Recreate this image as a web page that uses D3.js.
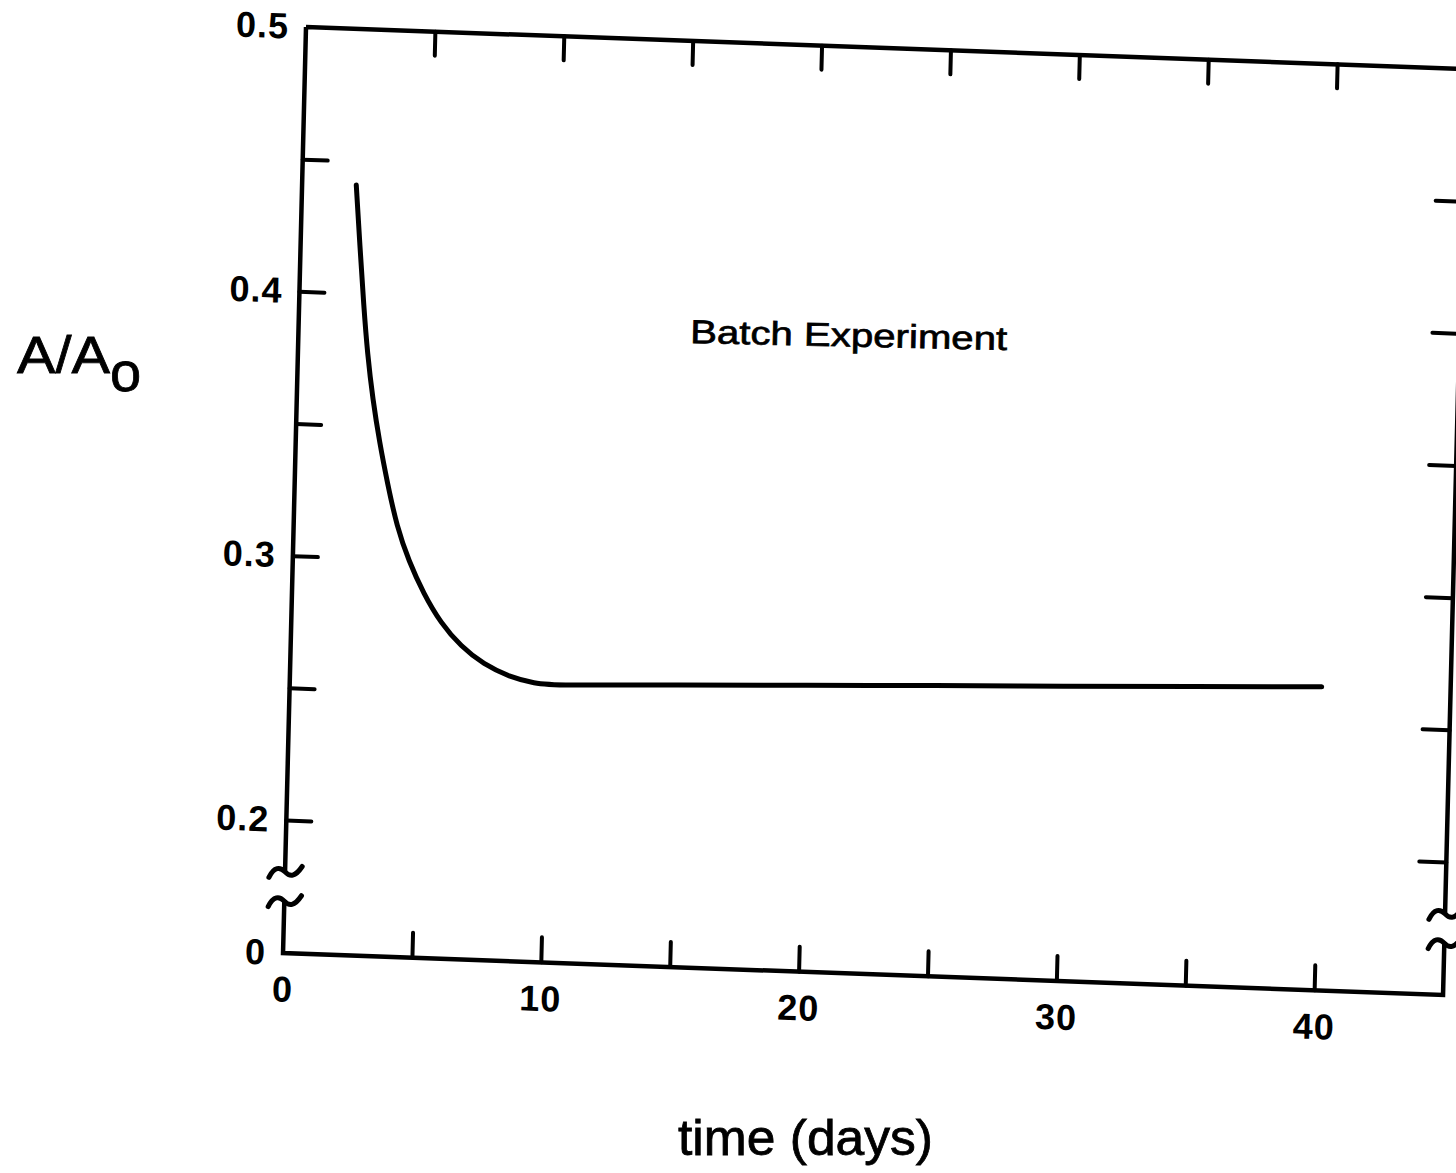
<!DOCTYPE html>
<html><head><meta charset="utf-8">
<script src="https://cdn.jsdelivr.net/npm/d3@7"></script>
<style>html,body{margin:0;padding:0;background:#fff;} svg{display:block;}</style>
</head><body>
<svg id="c" width="1456" height="1173"></svg>
<script>
// ---- data ----
const days  = [2.1, 2.3, 2.5, 2.7, 2.95, 3.25, 3.6, 4.0, 4.5, 5.1, 5.8, 6.6, 7.5, 8.5, 9.5, 10.3, 15, 20, 25, 30, 35, 40];
const ratio = [0.441, 0.418, 0.396, 0.377, 0.360, 0.344, 0.3285, 0.3125, 0.2995, 0.2875, 0.2765, 0.268, 0.2615, 0.2572, 0.2550, 0.2545, 0.2565, 0.258, 0.2597, 0.2612, 0.2628, 0.2645];
const xTickValues  = [5, 10, 15, 20, 25, 30, 35, 40];
const xLabelValues = [0, 10, 20, 30, 40];
const yTickValues  = [0.2, 0.25, 0.3, 0.35, 0.4, 0.45];
const yLabelValues = [0, 0.2, 0.3, 0.4, 0.5];
const xDomain = [0, 45];
const yDomain = [0, 0.2, 0.5];   // broken axis: 0 ... (break) ... 0.2 – 0.5
const annotation = "Batch Experiment";
const xTitle = "time (days)";
const yTitleMain = "A/A", yTitleSub = "o";

// ---- layout ----
const W = 1160, H = 926, y02 = 793;
const svg = d3.select("#c");
const ink = "#000";
const g = svg.append("g").attr("transform", "matrix(1,0.0362,-0.0248,1,306,27)");

const x = d3.scaleLinear().domain(xDomain).range([0, W]);
const y = d3.scaleLinear().domain(yDomain).range([H, y02, 0]);

const numFont = "'Liberation Sans', Arial, Helvetica, sans-serif";

function styleAxis(sel, sw) {
  sel.select(".domain").remove();
  sel.selectAll(".tick line").attr("stroke", ink).attr("stroke-width", sw).attr("stroke-linecap", "round");
  sel.selectAll("text").attr("fill", ink).attr("font-family", numFont).attr("font-weight", "bold")
     .attr("font-size", 36).attr("letter-spacing", 1);
}

// bottom ticks (inward) and labels
g.append("g").attr("transform", `translate(0,${H})`)
  .call(d3.axisBottom(x).tickValues(xTickValues).tickSizeInner(-25).tickSizeOuter(0).tickFormat(""))
  .call(s => styleAxis(s, 4));
g.append("g").attr("transform", `translate(0,${H})`)
  .call(d3.axisBottom(x).tickValues(xLabelValues).tickSize(0).tickPadding(23).tickFormat(d3.format("d")))
  .call(s => styleAxis(s, 0));
// top ticks
g.append("g")
  .call(d3.axisTop(x).tickValues(xTickValues).tickSizeInner(-24).tickSizeOuter(0).tickFormat(""))
  .call(s => styleAxis(s, 4));
// left ticks and labels
g.append("g")
  .call(d3.axisLeft(y).tickValues(yTickValues).tickSizeInner(-25).tickSizeOuter(0).tickFormat(""))
  .call(s => styleAxis(s, 4));
g.append("g")
  .call(d3.axisLeft(y).tickValues(yLabelValues).tickSize(0).tickPadding(17)
        .tickFormat(d => d === 0 ? "0" : d3.format(".1f")(d)))
  .call(s => styleAxis(s, 0));
// right ticks
g.append("g").attr("transform", `translate(${W},0)`)
  .call(d3.axisRight(y).tickValues(yTickValues).tickSizeInner(-27).tickSizeOuter(0).tickFormat(""))
  .call(s => styleAxis(s, 4));

// frame with axis breaks
const bTop = y(0.2) + 0.39 * (y(0) - y(0.2));
const bBot = y(0.2) + 0.61 * (y(0) - y(0.2));
g.append("path")
  .attr("d", `M0,0L0,${bTop}M0,${bBot}L0,${H}L${W},${H}L${W},${bBot}M${W},${bTop}L${W},0L0,0`)
  .attr("fill", "none").attr("stroke", ink).attr("stroke-width", 4.5).attr("stroke-linejoin", "miter");
const squiggle = "M-16,6C-11,-5 -5,-5 0,0S10,5 17,-6";
[[0, bTop], [0, bBot], [W, bTop], [W, bBot]].forEach(([px, py]) => {
  g.append("path").attr("d", squiggle).attr("transform", `translate(${px},${py})`)
    .attr("fill", "none").attr("stroke", ink).attr("stroke-width", 5).attr("stroke-linecap", "round");
});

// curve
const line = d3.line().x((d, i) => x(days[i])).y((d, i) => y(ratio[i])).curve(d3.curveBasis);
g.append("path").datum(days).attr("d", line)
  .attr("fill", "none").attr("stroke", ink).attr("stroke-width", 5).attr("stroke-linecap", "round");

// annotation
svg.append("text").attr("x", 690).attr("y", 343)
  .attr("transform", "rotate(1.27,690,343)")
  .attr("font-family", numFont).attr("font-size", 33).attr("fill", ink)
  .attr("stroke", ink).attr("stroke-width", 0.7)
  .attr("textLength", 317).attr("lengthAdjust", "spacingAndGlyphs")
  .text(annotation);

// axis titles
svg.append("text").attr("x", 678).attr("y", 1155)
  .attr("font-family", numFont).attr("font-size", 50).attr("fill", ink)
  .attr("stroke", ink).attr("stroke-width", 0.8)
  .attr("textLength", 255).attr("lengthAdjust", "spacingAndGlyphs")
  .text(xTitle);

const yt = svg.append("text").attr("x", 17).attr("y", 373)
  .attr("font-family", numFont).attr("font-size", 52).attr("fill", ink)
  .attr("stroke", ink).attr("stroke-width", 0.8);
yt.append("tspan").attr("textLength", 93).attr("lengthAdjust", "spacingAndGlyphs").text(yTitleMain);
yt.append("tspan").attr("dy", 18).attr("font-size", 56).text(yTitleSub);
</script>
</body></html>
